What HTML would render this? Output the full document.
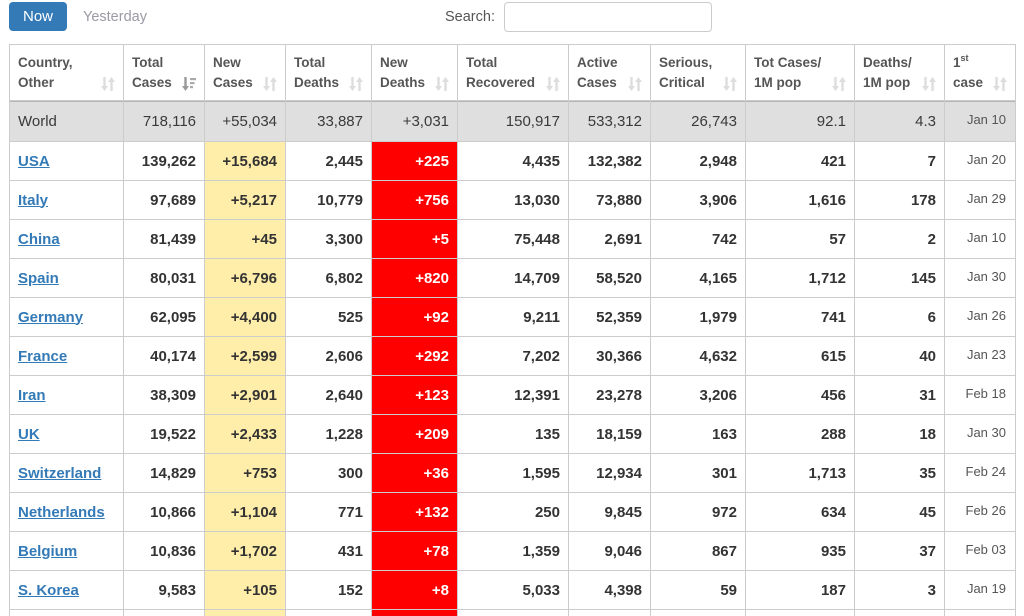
<!DOCTYPE html>
<html><head><meta charset="utf-8">
<style>
html,body{margin:0;padding:0;background:#fff;width:1024px;height:616px;overflow:hidden;}
body{position:relative;font-family:"Liberation Sans",Arial,sans-serif;}
.btn{position:absolute;left:9px;top:2px;width:58px;height:29px;background:#337ab7;border-radius:4px;color:#fff;font-size:15px;line-height:29px;text-align:center;}
.yest{position:absolute;left:83px;top:3px;line-height:29px;font-size:14.5px;color:#9a9aa6;}
.slabel{position:absolute;left:445px;top:3px;line-height:29px;font-size:14.5px;color:#555;}
.sinput{position:absolute;left:504px;top:2px;width:206px;height:28px;border:1px solid #ccc;border-radius:4px;}
.grid{position:absolute;left:9px;top:44px;background:#ccc;padding:1px 1px 0 1px;display:grid;
grid-template-columns:113px 80px 80px 85px 85px 110px 81px 94px 108px 89px 70px;
grid-template-rows:55px 40px repeat(12,38px) 6px;gap:1px;}
.grid>div{background:#fff;box-sizing:border-box;display:flex;align-items:center;justify-content:flex-end;padding:0 8px;color:#333;font-size:15px;font-weight:bold;white-space:nowrap;overflow:hidden;}
.grid>div.h{display:block;position:relative;font-size:13.5px;line-height:20px;color:#555;white-space:nowrap;padding:8px 0 0 8px;}
.h svg{position:absolute;right:8px;bottom:8px;}
.grid>div.w{background:#dfdfdf;font-weight:normal;color:#3a3a3a;box-shadow:inset 0 1px 0 #b5b5b5;}
.grid>div.c{justify-content:flex-start;}
.c a{color:#337ab7;text-decoration:underline;}
.grid>div.y{background:#ffeeaa;}
.grid>div.r{background:#ff0000;color:#fff;}
.grid>div.d{font-size:13px;font-weight:normal;color:#555;padding-right:9px;padding-bottom:3px;}
sup{font-size:9px;line-height:0;position:relative;top:-1px;vertical-align:super;}
</style></head><body>
<div class="btn">Now</div>
<div class="yest">Yesterday</div>
<div class="slabel">Search:</div>
<div class="sinput"></div>

<div class="grid">
<div class="h">Country,<br>Other<svg width="14" height="16" viewBox="0 0 14 16"><rect x="2.3" y="1" width="2.4" height="10" fill="#ddd"/><polygon points="0,10 7,10 3.5,15" fill="#ddd"/><rect x="9.3" y="5" width="2.4" height="10" fill="#ddd"/><polygon points="7,6 14,6 10.5,1" fill="#ddd"/></svg></div>
<div class="h">Total<br>Cases<svg width="14" height="16" viewBox="0 0 14 16"><rect x="2.3" y="1" width="2.4" height="10" fill="#999"/><polygon points="0,10 7,10 3.5,15" fill="#999"/><rect x="8" y="2" width="6" height="2.2" fill="#aaa"/><rect x="8" y="6" width="4.5" height="2.2" fill="#aaa"/><rect x="8" y="10" width="3" height="2.2" fill="#aaa"/></svg></div>
<div class="h">New<br>Cases<svg width="14" height="16" viewBox="0 0 14 16"><rect x="2.3" y="1" width="2.4" height="10" fill="#ddd"/><polygon points="0,10 7,10 3.5,15" fill="#ddd"/><rect x="9.3" y="5" width="2.4" height="10" fill="#ddd"/><polygon points="7,6 14,6 10.5,1" fill="#ddd"/></svg></div>
<div class="h">Total<br>Deaths<svg width="14" height="16" viewBox="0 0 14 16"><rect x="2.3" y="1" width="2.4" height="10" fill="#ddd"/><polygon points="0,10 7,10 3.5,15" fill="#ddd"/><rect x="9.3" y="5" width="2.4" height="10" fill="#ddd"/><polygon points="7,6 14,6 10.5,1" fill="#ddd"/></svg></div>
<div class="h">New<br>Deaths<svg width="14" height="16" viewBox="0 0 14 16"><rect x="2.3" y="1" width="2.4" height="10" fill="#ddd"/><polygon points="0,10 7,10 3.5,15" fill="#ddd"/><rect x="9.3" y="5" width="2.4" height="10" fill="#ddd"/><polygon points="7,6 14,6 10.5,1" fill="#ddd"/></svg></div>
<div class="h">Total<br>Recovered<svg width="14" height="16" viewBox="0 0 14 16"><rect x="2.3" y="1" width="2.4" height="10" fill="#ddd"/><polygon points="0,10 7,10 3.5,15" fill="#ddd"/><rect x="9.3" y="5" width="2.4" height="10" fill="#ddd"/><polygon points="7,6 14,6 10.5,1" fill="#ddd"/></svg></div>
<div class="h">Active<br>Cases<svg width="14" height="16" viewBox="0 0 14 16"><rect x="2.3" y="1" width="2.4" height="10" fill="#ddd"/><polygon points="0,10 7,10 3.5,15" fill="#ddd"/><rect x="9.3" y="5" width="2.4" height="10" fill="#ddd"/><polygon points="7,6 14,6 10.5,1" fill="#ddd"/></svg></div>
<div class="h">Serious,<br>Critical<svg width="14" height="16" viewBox="0 0 14 16"><rect x="2.3" y="1" width="2.4" height="10" fill="#ddd"/><polygon points="0,10 7,10 3.5,15" fill="#ddd"/><rect x="9.3" y="5" width="2.4" height="10" fill="#ddd"/><polygon points="7,6 14,6 10.5,1" fill="#ddd"/></svg></div>
<div class="h">Tot Cases/<br>1M pop<svg width="14" height="16" viewBox="0 0 14 16"><rect x="2.3" y="1" width="2.4" height="10" fill="#ddd"/><polygon points="0,10 7,10 3.5,15" fill="#ddd"/><rect x="9.3" y="5" width="2.4" height="10" fill="#ddd"/><polygon points="7,6 14,6 10.5,1" fill="#ddd"/></svg></div>
<div class="h">Deaths/<br>1M pop<svg width="14" height="16" viewBox="0 0 14 16"><rect x="2.3" y="1" width="2.4" height="10" fill="#ddd"/><polygon points="0,10 7,10 3.5,15" fill="#ddd"/><rect x="9.3" y="5" width="2.4" height="10" fill="#ddd"/><polygon points="7,6 14,6 10.5,1" fill="#ddd"/></svg></div>
<div class="h">1<sup>st</sup><br>case<svg width="14" height="16" viewBox="0 0 14 16"><rect x="2.3" y="1" width="2.4" height="10" fill="#ddd"/><polygon points="0,10 7,10 3.5,15" fill="#ddd"/><rect x="9.3" y="5" width="2.4" height="10" fill="#ddd"/><polygon points="7,6 14,6 10.5,1" fill="#ddd"/></svg></div>

<div class="w c">World</div><div class="w">718,116</div><div class="w">+55,034</div><div class="w">33,887</div><div class="w">+3,031</div><div class="w">150,917</div><div class="w">533,312</div><div class="w">26,743</div><div class="w">92.1</div><div class="w">4.3</div><div class="w d">Jan 10</div>

<div class="c"><a>USA</a></div><div>139,262</div><div class="y">+15,684</div><div>2,445</div><div class="r">+225</div><div>4,435</div><div>132,382</div><div>2,948</div><div>421</div><div>7</div><div class="d">Jan 20</div>
<div class="c"><a>Italy</a></div><div>97,689</div><div class="y">+5,217</div><div>10,779</div><div class="r">+756</div><div>13,030</div><div>73,880</div><div>3,906</div><div>1,616</div><div>178</div><div class="d">Jan 29</div>
<div class="c"><a>China</a></div><div>81,439</div><div class="y">+45</div><div>3,300</div><div class="r">+5</div><div>75,448</div><div>2,691</div><div>742</div><div>57</div><div>2</div><div class="d">Jan 10</div>
<div class="c"><a>Spain</a></div><div>80,031</div><div class="y">+6,796</div><div>6,802</div><div class="r">+820</div><div>14,709</div><div>58,520</div><div>4,165</div><div>1,712</div><div>145</div><div class="d">Jan 30</div>
<div class="c"><a>Germany</a></div><div>62,095</div><div class="y">+4,400</div><div>525</div><div class="r">+92</div><div>9,211</div><div>52,359</div><div>1,979</div><div>741</div><div>6</div><div class="d">Jan 26</div>
<div class="c"><a>France</a></div><div>40,174</div><div class="y">+2,599</div><div>2,606</div><div class="r">+292</div><div>7,202</div><div>30,366</div><div>4,632</div><div>615</div><div>40</div><div class="d">Jan 23</div>
<div class="c"><a>Iran</a></div><div>38,309</div><div class="y">+2,901</div><div>2,640</div><div class="r">+123</div><div>12,391</div><div>23,278</div><div>3,206</div><div>456</div><div>31</div><div class="d">Feb 18</div>
<div class="c"><a>UK</a></div><div>19,522</div><div class="y">+2,433</div><div>1,228</div><div class="r">+209</div><div>135</div><div>18,159</div><div>163</div><div>288</div><div>18</div><div class="d">Jan 30</div>
<div class="c"><a>Switzerland</a></div><div>14,829</div><div class="y">+753</div><div>300</div><div class="r">+36</div><div>1,595</div><div>12,934</div><div>301</div><div>1,713</div><div>35</div><div class="d">Feb 24</div>
<div class="c"><a>Netherlands</a></div><div>10,866</div><div class="y">+1,104</div><div>771</div><div class="r">+132</div><div>250</div><div>9,845</div><div>972</div><div>634</div><div>45</div><div class="d">Feb 26</div>
<div class="c"><a>Belgium</a></div><div>10,836</div><div class="y">+1,702</div><div>431</div><div class="r">+78</div><div>1,359</div><div>9,046</div><div>867</div><div>935</div><div>37</div><div class="d">Feb 03</div>
<div class="c"><a>S. Korea</a></div><div>9,583</div><div class="y">+105</div><div>152</div><div class="r">+8</div><div>5,033</div><div>4,398</div><div>59</div><div>187</div><div>3</div><div class="d">Jan 19</div>
<div></div><div></div><div class="y"></div><div></div><div class="r"></div><div></div><div></div><div></div><div></div><div></div><div></div>
</div>
</body></html>
